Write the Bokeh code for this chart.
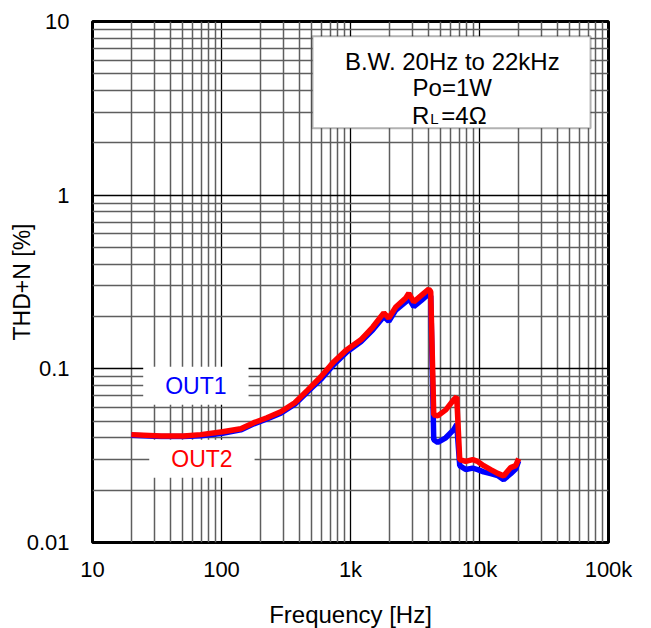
import math
from bokeh.plotting import figure
from bokeh.models import Range1d, FixedTicker, CustomJSTickFormatter, Label, BoxAnnotation
from bokeh.embed import file_html
from bokeh.resources import INLINE

# ---- data ----
freq = [20, 34, 51, 69, 102, 141, 178, 225, 288, 370, 467, 589, 743, 936, 1202,
        1489, 1812, 1981, 2244, 2681, 2830, 3093, 3505, 4044, 4188, 4419, 4747,
        5475, 6313, 6659, 7026, 7818, 8857, 9683, 10780, 12210, 13830, 15390,
        17450, 19070, 20130]
out1 = [0.0415, 0.0408, 0.0408, 0.0412, 0.0425, 0.0445, 0.0482, 0.0515, 0.0555,
        0.0625, 0.074, 0.087, 0.106, 0.125, 0.143, 0.168, 0.200, 0.188, 0.218,
        0.243, 0.255, 0.228, 0.246, 0.270, 0.262, 0.0391, 0.0377, 0.0401, 0.0447,
        0.0478, 0.0277, 0.0263, 0.0268, 0.0263, 0.0255, 0.0249, 0.0243, 0.0230,
        0.0249, 0.0265, 0.0295]
out2 = [0.0418, 0.0410, 0.0410, 0.0418, 0.0434, 0.0452, 0.049, 0.0523, 0.0566,
        0.0638, 0.0757, 0.090, 0.110, 0.129, 0.147, 0.174, 0.210, 0.196, 0.227,
        0.256, 0.272, 0.243, 0.263, 0.288, 0.278, 0.0544, 0.0536, 0.058, 0.0664,
        0.069, 0.030, 0.0293, 0.030, 0.0293, 0.0277, 0.0263, 0.0250, 0.0242,
        0.027, 0.0277, 0.0304]

x_ticks = [10, 100, 1000, 10000, 100000]
x_tick_labels = ["10", "100", "1k", "10k", "100k"]
y_ticks = [0.01, 0.1, 1, 10]
y_tick_labels = ["0.01", "0.1", "1", "10"]

series_names = ["OUT1", "OUT2"]
series_colors = ["#0000ff", "#ff0000"]

info_lines = ["B.W. 20Hz to 22kHz", "Po=1W"]

FONT = "Liberation Sans"

def minors(major):
    out = []
    for m in major[:-1]:
        for k in range(2, 10):
            out.append(m * k)
    return out

p = figure(x_axis_type="log", y_axis_type="log",
           x_range=Range1d(10, 100000), y_range=Range1d(0.01, 10),
           frame_width=516, frame_height=521,
           min_border_left=92, min_border_top=21, min_border_right=43, min_border_bottom=86,
           output_backend="svg", toolbar_location=None)

p.background_fill_color = "white"
p.border_fill_color = "white"
p.outline_line_color = "black"
p.outline_line_width = 3

fmt_code = """
for (let i = 0; i < vals.length; i++) {
  if (Math.abs(Math.log10(vals[i]) - Math.log10(tick)) < 1e-6) return labs[i];
}
return '';
"""
p.xaxis.ticker = FixedTicker(ticks=x_ticks, minor_ticks=minors(x_ticks))
p.yaxis.ticker = FixedTicker(ticks=y_ticks, minor_ticks=minors(y_ticks))
p.xaxis.formatter = CustomJSTickFormatter(args=dict(vals=x_ticks, labs=x_tick_labels), code=fmt_code)
p.yaxis.formatter = CustomJSTickFormatter(args=dict(vals=y_ticks, labs=y_tick_labels), code=fmt_code)

for ax in (p.xaxis, p.yaxis):
    ax.axis_line_color = None
    ax.major_tick_line_color = None
    ax.minor_tick_line_color = None
    ax.major_tick_out = 0
    ax.major_tick_in = 0
    ax.minor_tick_out = 0
    ax.minor_tick_in = 0
    ax.major_label_text_font = FONT
    ax.major_label_text_font_size = "22px"
    ax.major_label_text_color = "black"
    ax.axis_label_text_font = FONT
    ax.axis_label_text_font_style = "normal"
    ax.axis_label_text_color = "black"

p.xaxis.major_label_standoff = 14
p.yaxis.major_label_standoff = 23
p.xaxis.axis_label = "Frequency [Hz]"
p.xaxis.axis_label_text_font_size = "24px"
p.xaxis.axis_label_standoff = 16
p.yaxis.axis_label = "THD+N [%]"
p.yaxis.axis_label_text_font_size = "23px"
p.yaxis.axis_label_standoff = -11

for g in (p.xgrid, p.ygrid):
    g.grid_line_color = "black"
    g.grid_line_width = 1.3
    g.grid_line_alpha = 1.0
    g.minor_grid_line_color = "#5e5e5e"
    g.minor_grid_line_width = 1.5

# curves
for ys, c in zip([out1, out2], series_colors):
    p.line(freq, ys, line_color=c, line_width=5.5)

# series labels with white backgrounds
lab_pos = [(63.3, 0.0798), (70.5, 0.0304)]
for name, c, (lx, ly) in zip(series_names, series_colors, lab_pos):
    p.add_layout(Label(x=lx, y=ly, text=name, text_align="center", text_baseline="middle",
                       text_font=FONT, text_font_size="23px", text_color=c,
                       background_fill_color="white", background_fill_alpha=1.0,
                       padding=dict(left=22, right=22, top=6, bottom=6)))

# info box
p.add_layout(BoxAnnotation(left=507.6, right=72600, bottom=2.43, top=8.23,
                           fill_color="white", fill_alpha=1.0,
                           line_color="black", line_width=2))
cx, cy = 6152, 2.883
for txt, off in zip(info_lines, [54, 28]):
    p.add_layout(Label(x=cx, y=cy, y_offset=off, text=txt, text_align="center",
                       text_baseline="alphabetic", text_font=FONT,
                       text_font_size="24px", text_color="black"))
p.add_layout(Label(x=cx, y=cy, x_offset=-23, text="R", text_align="right",
                   text_baseline="alphabetic", text_font=FONT,
                   text_font_size="24px", text_color="black"))
p.add_layout(Label(x=cx, y=cy, x_offset=-22, y_offset=-3, text="L", text_align="left",
                   text_baseline="alphabetic", text_font=FONT,
                   text_font_size="15px", text_color="black"))
p.add_layout(Label(x=cx, y=cy, x_offset=-11, text="=4Ω", text_align="left",
                   text_baseline="alphabetic", text_font=FONT,
                   text_font_size="24px", text_color="black"))

open("out.html", "w").write(file_html(p, INLINE))
